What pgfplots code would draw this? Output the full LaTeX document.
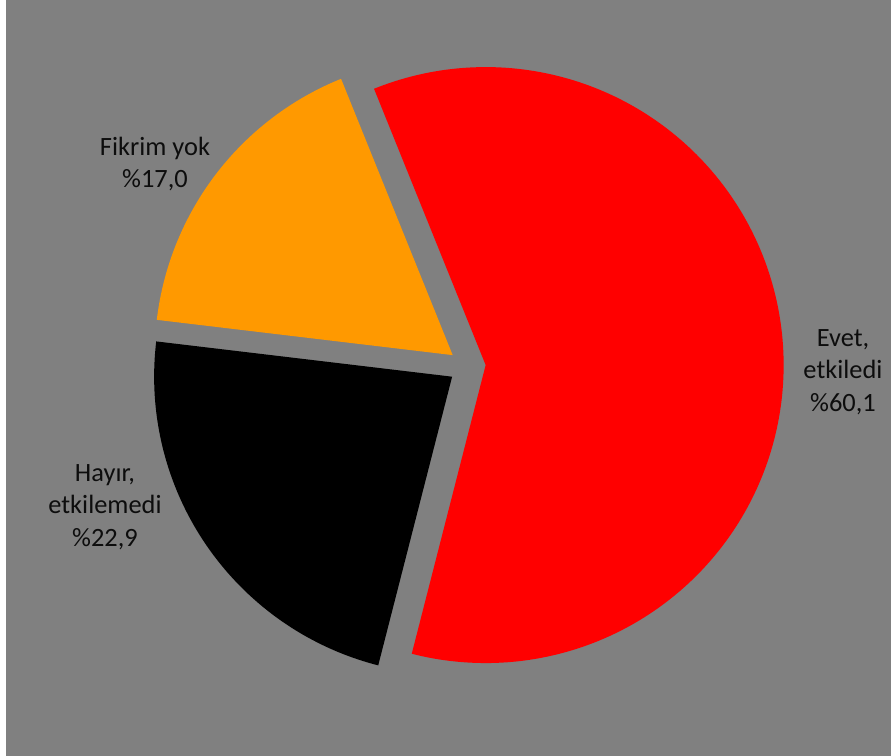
\documentclass[border=0pt]{standalone}
\usepackage{pgfplots}
\pgfplotsset{compat=1.18}
\usepackage{fontspec}
\setmainfont{Carlito}
\definecolor{bg}{HTML}{808080}
\definecolor{cEvet}{HTML}{FF0000}
\definecolor{cHayir}{HTML}{000000}
\definecolor{cFikrim}{HTML}{FF9900}
\definecolor{txt}{HTML}{0D0D0D}
% data (percent)
\def\vEvet{60.1}
\def\vHayir{22.9}
\def\vFikrim{17.0}
\def\startang{112}
\def\cx{467.3}
\def\cy{389.7}
\def\R{298}
\def\ex{18.4}
\begin{document}
\begin{tikzpicture}
\pgfmathsetmacro{\aA}{\startang}
\pgfmathsetmacro{\aB}{\aA-3.6*\vEvet}
\pgfmathsetmacro{\aC}{\aB-3.6*\vHayir}
\pgfmathsetmacro{\aD}{\aC-3.6*\vFikrim}
\pgfmathsetmacro{\mA}{(\aA+\aB)/2}
\pgfmathsetmacro{\mB}{(\aB+\aC)/2}
\pgfmathsetmacro{\mC}{(\aC+\aD)/2}
\pgfmathsetmacro{\xA}{\cx+\ex*cos(\mA)}
\pgfmathsetmacro{\yA}{\cy+\ex*sin(\mA)}
\pgfmathsetmacro{\xB}{\cx+\ex*cos(\mB)}
\pgfmathsetmacro{\yB}{\cy+\ex*sin(\mB)}
\pgfmathsetmacro{\xC}{\cx+\ex*cos(\mC)}
\pgfmathsetmacro{\yC}{\cy+\ex*sin(\mC)}
\begin{axis}[
  scale only axis, width=445.5pt, height=378pt,
  xmin=0, xmax=891, ymin=0, ymax=756,
  hide axis, clip=false,
]
\path[fill=white] (axis cs:0,0) rectangle (axis cs:891,756);
\fill[bg] (axis cs:6,0) rectangle (axis cs:891,756);
% Evet
\addplot[fill=cEvet, draw=none, domain=-1:200, samples=202]
  ({\xA + (x<0 ? 0 : \R)*cos(\aA + (\aB-\aA)*max(x,0)/200)},
   {\yA + (x<0 ? 0 : \R)*sin(\aA + (\aB-\aA)*max(x,0)/200)}) -- cycle;
% Hayir
\addplot[fill=cHayir, draw=none, domain=-1:100, samples=102]
  ({\xB + (x<0 ? 0 : \R)*cos(\aB + (\aC-\aB)*max(x,0)/100)},
   {\yB + (x<0 ? 0 : \R)*sin(\aB + (\aC-\aB)*max(x,0)/100)}) -- cycle;
% Fikrim
\addplot[fill=cFikrim, draw=none, domain=-1:100, samples=102]
  ({\xC + (x<0 ? 0 : \R)*cos(\aC + (\aD-\aC)*max(x,0)/100)},
   {\yC + (x<0 ? 0 : \R)*sin(\aC + (\aD-\aC)*max(x,0)/100)}) -- cycle;
\begin{scope}[every node/.style={text=txt, align=center, font=\fontsize{13.2}{16.2}\selectfont}]
\node at (axis cs:843,384) {Evet,\\etkiledi\\\%60,1};
\node at (axis cs:105,249) {Hayır,\\etkilemedi\\\%22,9};
\node at (axis cs:155,592) {Fikrim yok\\\%17,0};
\end{scope}
\end{axis}
\end{tikzpicture}
\end{document}
